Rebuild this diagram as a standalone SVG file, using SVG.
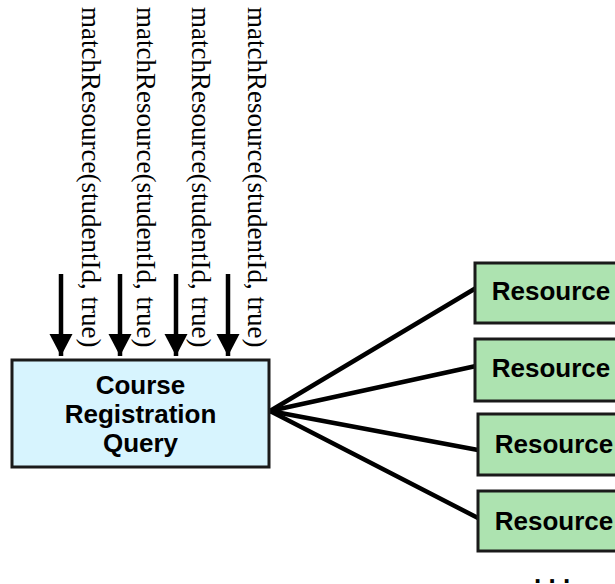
<svg xmlns="http://www.w3.org/2000/svg" width="615" height="584" viewBox="0 0 615 584">
  <style>
    .call { font-family: "Liberation Serif", "Times New Roman", serif; font-size: 27px; fill: #000; }
    .label { font-family: "Liberation Sans", Arial, sans-serif; font-size: 26px; font-weight: bold; fill: #000; text-anchor: middle; }
    .query { fill: #d7f4fe; stroke: #1a1a1a; stroke-width: 3; }
    .res { fill: #ade3b0; stroke: #1a1a1a; stroke-width: 3; }
    .link { stroke: #000; stroke-width: 4.5; fill: none; stroke-linecap: round; }
    .shaft { stroke: #000; stroke-width: 4.5; fill: none; }
  </style>
  <defs>
    <marker id="head" markerUnits="userSpaceOnUse" markerWidth="24" markerHeight="24" refX="22" refY="11.5" orient="auto">
      <path d="M0,0 L22,11.5 L0,23 Z" fill="#000"/>
    </marker>
  </defs>
  <rect width="615" height="584" fill="#fff"/>

  <!-- incoming calls: vertical labels with downward arrows -->
  <g id="calls">
    <text class="call" transform="translate(82,7) rotate(90)">matchResource(studentId, true)</text>
    <text class="call" transform="translate(137,7) rotate(90)">matchResource(studentId, true)</text>
    <text class="call" transform="translate(192,7) rotate(90)">matchResource(studentId, true)</text>
    <text class="call" transform="translate(248,7) rotate(90)">matchResource(studentId, true)</text>
    <line class="shaft" x1="61" y1="274" x2="61" y2="356" marker-end="url(#head)"/>
    <line class="shaft" x1="120" y1="274" x2="120" y2="356" marker-end="url(#head)"/>
    <line class="shaft" x1="176" y1="274" x2="176" y2="356" marker-end="url(#head)"/>
    <line class="shaft" x1="228" y1="274" x2="228" y2="356" marker-end="url(#head)"/>
  </g>

  <!-- fan-out links to resources -->
  <g id="connectors">
    <line class="link" x1="270" y1="411" x2="476" y2="288"/>
    <line class="link" x1="270" y1="411" x2="476" y2="366"/>
    <line class="link" x1="270" y1="411" x2="478" y2="450"/>
    <line class="link" x1="270" y1="411" x2="478" y2="518"/>
  </g>

  <g id="query">
    <rect class="query" x="12" y="360" width="257" height="107"/>
    <text class="label" x="140.5" y="394">Course</text>
    <text class="label" x="140.5" y="423">Registration</text>
    <text class="label" x="140.5" y="452">Query</text>
  </g>

  <g id="resource1">
    <rect class="res" x="475" y="263" width="155" height="60"/>
    <text class="label" x="551" y="300">Resource</text>
  </g>
  <g id="resource2">
    <rect class="res" x="475" y="339" width="155" height="62"/>
    <text class="label" x="551" y="377">Resource</text>
  </g>
  <g id="resource3">
    <rect class="res" x="478" y="414" width="155" height="61"/>
    <text class="label" x="554" y="453">Resource</text>
  </g>
  <g id="resource4">
    <rect class="res" x="478" y="491" width="155" height="60"/>
    <text class="label" x="554" y="530">Resource</text>
  </g>

  <text id="more" x="534" y="583" font-family="Liberation Sans, Arial, sans-serif" font-size="26" font-weight="bold">. . .</text>
</svg>
